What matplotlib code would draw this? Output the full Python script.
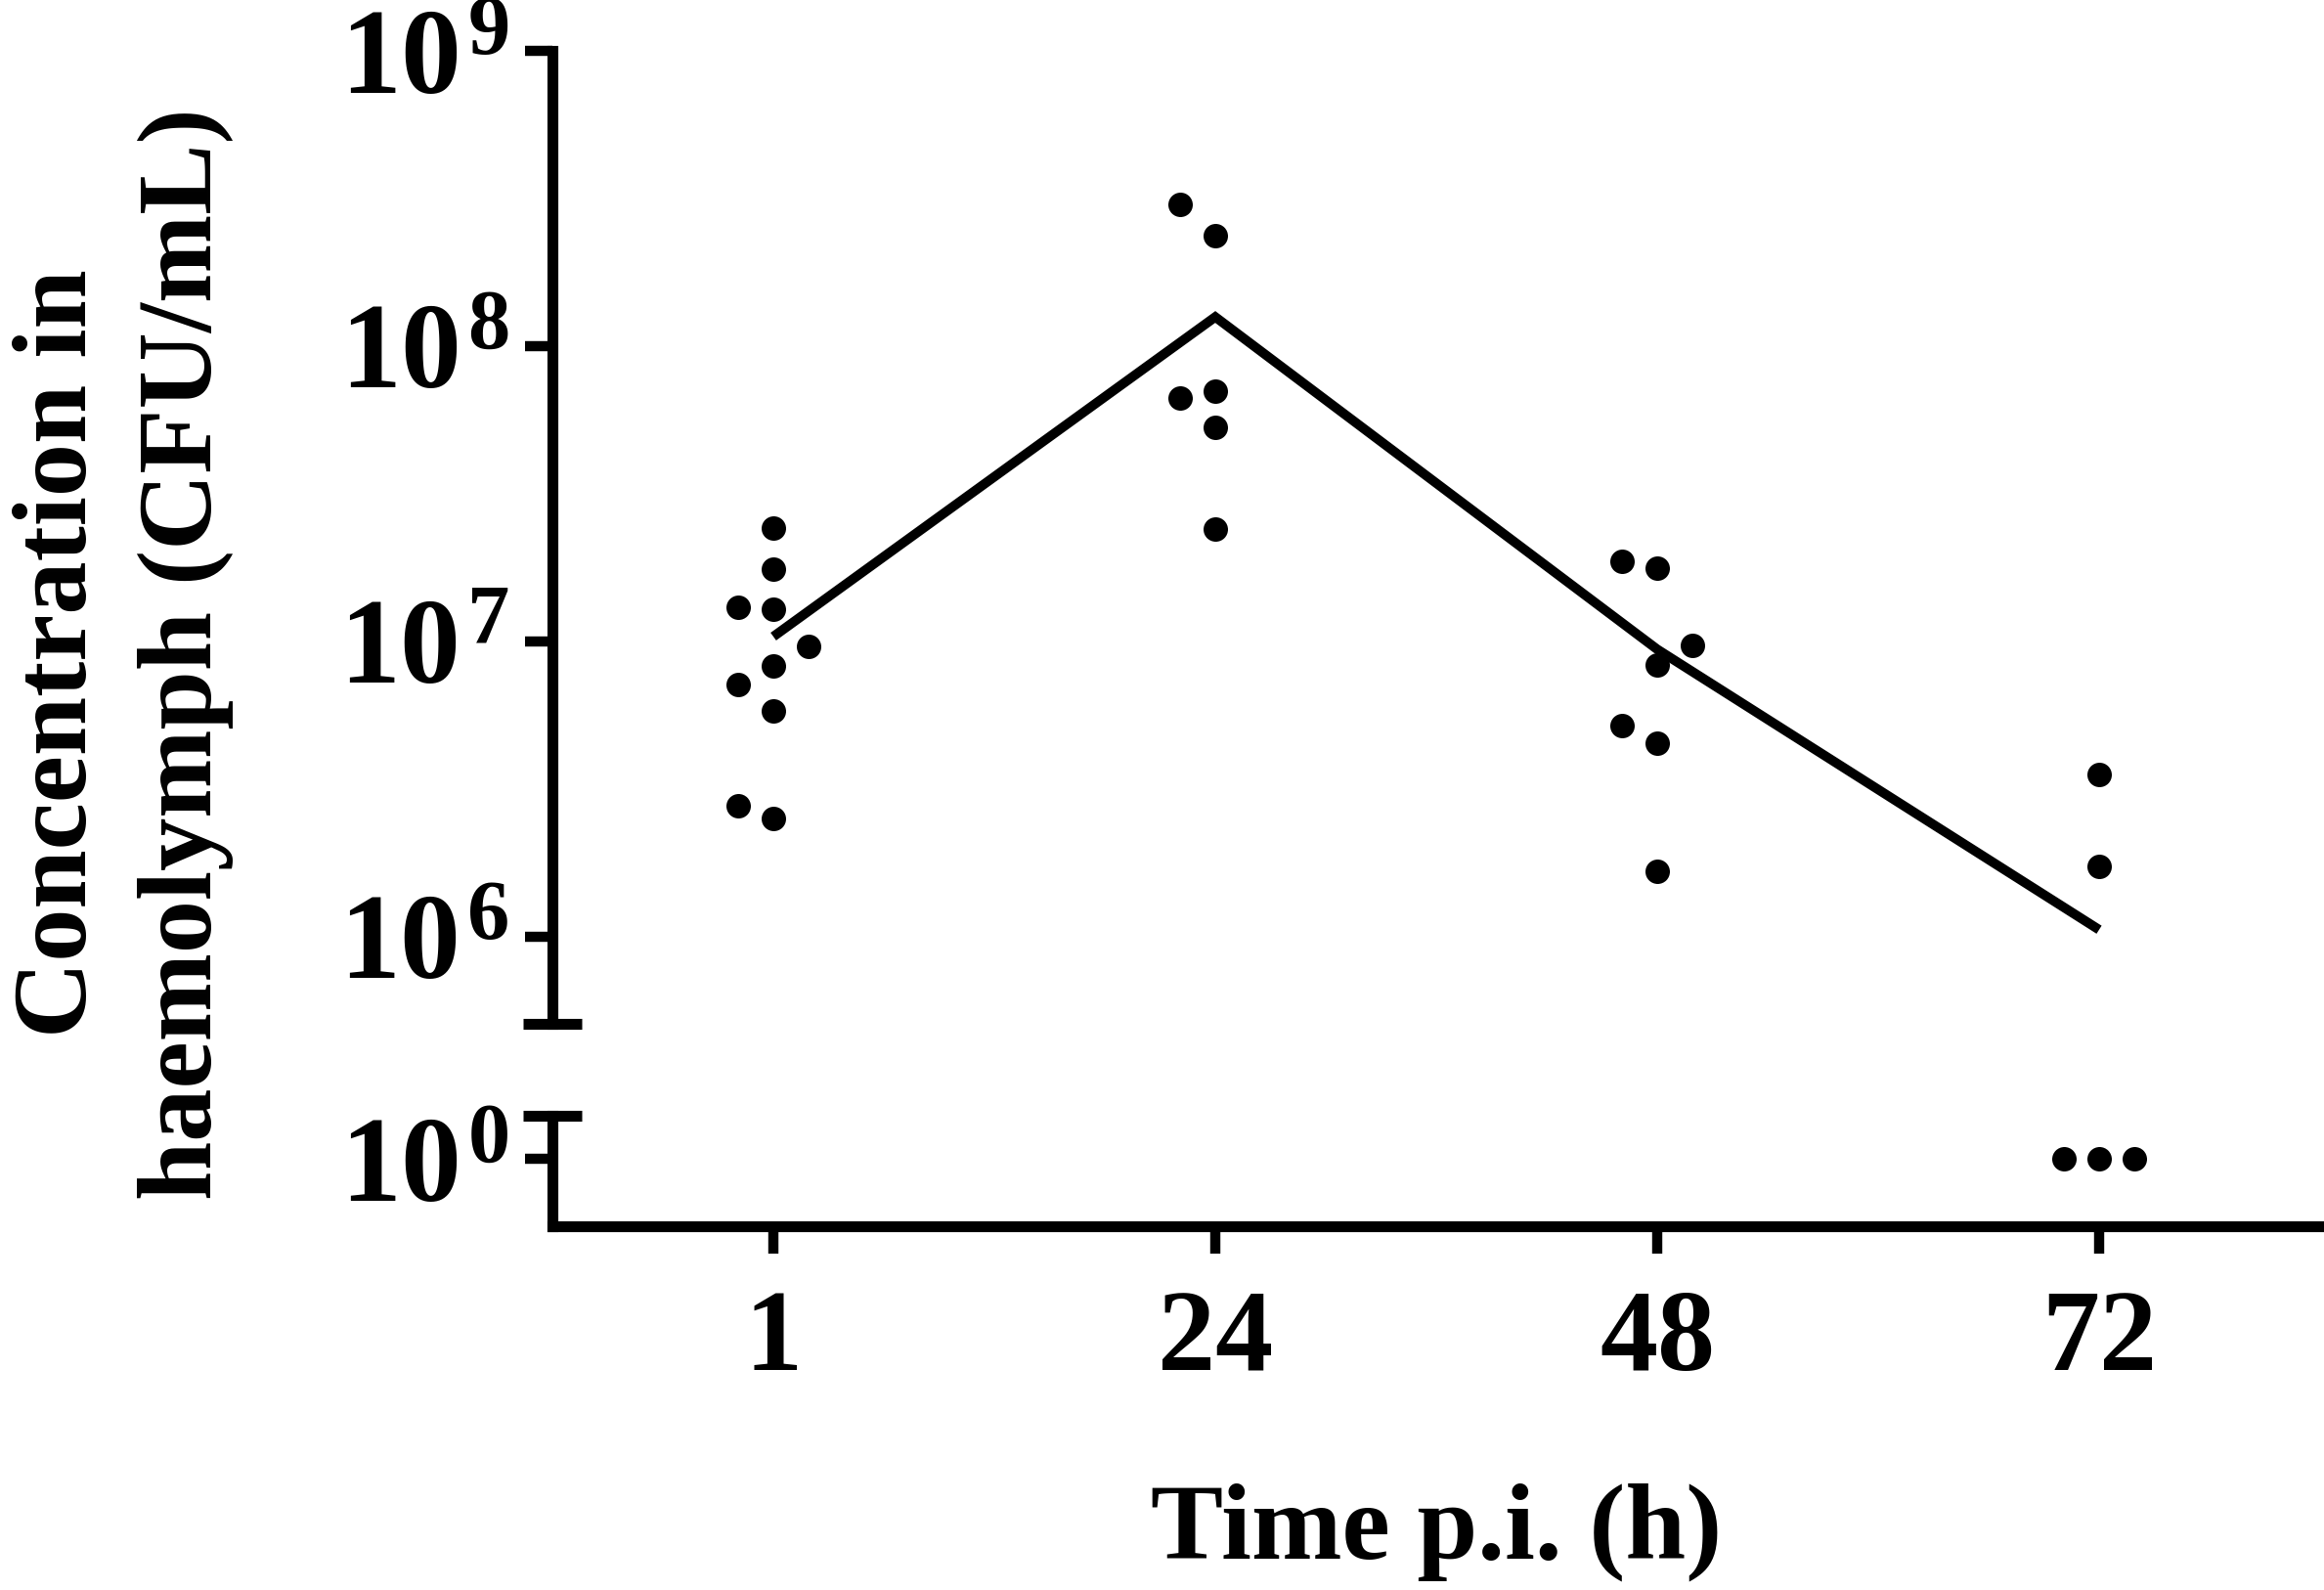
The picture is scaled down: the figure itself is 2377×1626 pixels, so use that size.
import numpy as np
import matplotlib
matplotlib.use("Agg")
import matplotlib.pyplot as plt
from matplotlib.ticker import FixedLocator, FuncFormatter, NullFormatter

plt.rcParams['font.family'] = ['Liberation Serif', 'DejaVu Serif']
plt.rcParams['font.weight'] = 'bold'
plt.rcParams['mathtext.fontset'] = 'custom'
plt.rcParams['mathtext.rm'] = 'Liberation Serif:bold'
plt.rcParams['mathtext.it'] = 'Liberation Serif:bold:italic'
plt.rcParams['mathtext.bf'] = 'Liberation Serif:bold'

# CFU/mL in haemolymph per larva, in entry order
times = ["1", "24", "48", "72"]
cfu_1h = [2.42e7, 1.76e7, 1.285e7, 1.306e7, 8.26e6, 9.62e6, 5.82e6, 7.14e6, 2.52e6, 2.78e6]
cfu_24h = [2.37e8, 3.02e8, 7.05e7, 6.68e7, 5.31e7, 2.40e7]
cfu_48h = [1.77e7, 1.87e7, 8.34e6, 9.7e6, 4.53e6, 5.19e6, 1.67e6]
cfu_72h = [3.55e6, 1.73e6, 1, 1, 1]
groups = [cfu_1h, cfu_24h, cfu_48h, cfu_72h]

upper_lim = (10 ** 5.705, 1e9)
lower_lim = (10 ** -0.228, 10 ** 0.146)


def swarm_slots(values, gap=0.115, reach=0.3):
    # prism-like column scatter: centre first, then the freer side
    logs = np.log10(values)
    slots = []
    for i, v in enumerate(logs):
        prev = logs[:i]
        taken = np.array(slots, dtype=int)

        def room(s):
            d = np.abs(prev[taken == s] - v) if i else np.array([])
            return min(d.min(), reach) if d.size else reach

        if room(0) >= gap:
            slots.append(0)
            continue
        k = 1
        while True:
            left, right = room(-k), room(k)
            if max(left, right) >= gap:
                slots.append(-k if left >= right else k)
                break
            k += 1
    return np.array(slots)


fig = plt.figure(figsize=(23.77, 16.26), dpi=100)
ax_top = fig.add_axes([0.2377, 0.3561, 0.7606, 0.6119])
ax_bot = fig.add_axes([0.2377, 0.2288, 0.7606, 0.0695])

for i, vals in enumerate(groups):
    vals = np.array(vals, dtype=float)
    xs = i + swarm_slots(vals) * 0.08
    hi = vals > upper_lim[0]
    ax_top.plot(xs[hi], vals[hi], 'o', ms=18, color='black', mec='none', clip_on=False)
    ax_bot.plot(xs[~hi], vals[~hi], 'o', ms=18, color='black', mec='none', clip_on=False)

means = [np.mean(g) for g in groups]
ax_top.plot(range(len(times)), means, color='black', lw=7,
            solid_capstyle='butt', solid_joinstyle='miter')

for ax, lim in [(ax_top, upper_lim), (ax_bot, lower_lim)]:
    ax.set_yscale('log')
    ax.set_ylim(*lim)
    ax.set_xlim(-0.5, 3.5)
    ax.patch.set_alpha(0)
    for s in ['top', 'right']:
        ax.spines[s].set_visible(False)
    for s in ['left', 'bottom']:
        ax.spines[s].set_linewidth(8)
        ax.spines[s].set_capstyle('projecting')
    ax.yaxis.set_major_formatter(FuncFormatter(
        lambda v, p: f"$10^{{\\hspace{{0.09}}{int(round(np.log10(v)))}}}$"))
    ax.yaxis.set_minor_formatter(NullFormatter())
    ax.tick_params(axis='y', which='major', direction='out', length=20, width=7.5,
                   labelsize=89, pad=12)
    ax.tick_params(axis='y', which='minor', direction='inout', length=43, width=8)

ax_top.spines['bottom'].set_visible(False)
ax_top.yaxis.set_major_locator(FixedLocator([1e6, 1e7, 1e8, 1e9]))
ax_top.yaxis.set_minor_locator(FixedLocator([upper_lim[0]]))
ax_top.tick_params(axis='x', bottom=False, labelbottom=False)

ax_bot.yaxis.set_major_locator(FixedLocator([1]))
ax_bot.yaxis.set_minor_locator(FixedLocator([lower_lim[1]]))
ax_bot.set_xticks(range(len(times)), times)
ax_bot.tick_params(axis='x', direction='out', length=20, width=7.5, labelsize=85, pad=27)

fig.text(0.053, 0.589, "Concentration in\nhaemolymph (CFU/mL)", rotation=90,
         ha='center', va='center', multialignment='center', fontsize=78,
         fontweight='bold', linespacing=1.39)
fig.text(0.618, 0.0197, "Time p.i. (h)", ha='center', va='baseline',
         fontsize=80, fontweight='bold')

fig.savefig("out.png", dpi=100)
